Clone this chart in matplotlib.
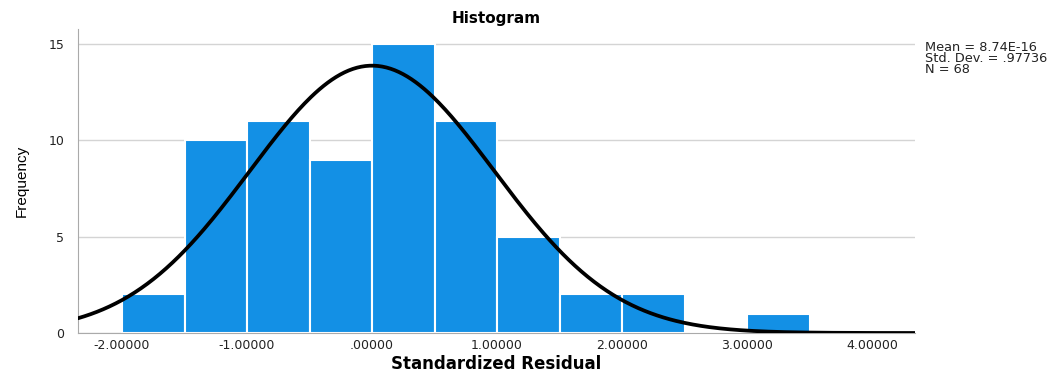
import numpy as np
import matplotlib
matplotlib.use("Agg")
import matplotlib.pyplot as plt

plt.rcParams['font.family'] = ['DejaVu Sans']

# histogram bins (edges) and counts
bin_edges = [-2.0, -1.5, -1.0, -0.5, 0.0, 0.5, 1.0, 1.5, 2.0, 2.5, 3.0, 3.5]
counts = [2, 10, 11, 9, 15, 11, 5, 2, 2, 0, 1]

mean = 8.74e-16
std = 0.97736
n = 68

xticks = [-2, -1, 0, 1, 2, 3, 4]
xticklabels = ["-2.00000", "-1.00000", ".00000", "1.00000", "2.00000", "3.00000", "4.00000"]
yticks = [0, 5, 10, 15]

fig = plt.figure(figsize=(10.56, 3.71), dpi=100)
ax = fig.add_axes([0.0739, 0.1024, 0.7926, 0.8194])

lefts = np.array(bin_edges[:-1])
widths = np.diff(bin_edges)
ax.bar(lefts, counts, width=widths, align="edge", color="#1390E5",
       edgecolor="white", linewidth=1.5, zorder=2)

# fitted normal curve, scaled to counts
xlim = (-2.352, 4.344)
xs = np.linspace(xlim[0], xlim[1], 400)
bw = widths[0]
ys = n * bw / (std * np.sqrt(2 * np.pi)) * np.exp(-0.5 * ((xs - mean) / std) ** 2)
ax.plot(xs, ys, color="black", lw=2.7, zorder=3, solid_capstyle="round")

ax.set_xlim(*xlim)
ax.set_ylim(0, 15.78)
ax.set_xticks(xticks)
ax.set_xticklabels(xticklabels)
ax.set_yticks(yticks)
ax.tick_params(length=0, labelsize=9, colors="#222222")
ax.tick_params(axis="y", pad=10)
ax.tick_params(axis="x", pad=4)
ax.yaxis.grid(True, color="#d4d4d4", lw=1, zorder=0)
ax.set_axisbelow(True)
for s in ["top", "right"]:
    ax.spines[s].set_visible(False)
for s in ["left", "bottom"]:
    ax.spines[s].set_color("#aaaaaa")

ax.set_title("Histogram", fontsize=11, fontweight="bold", pad=4)
ax.set_xlabel("Standardized Residual", fontsize=12, fontweight="bold")
ax.xaxis.set_label_coords(0.5, -0.072)
ax.set_ylabel("Frequency", fontsize=11, labelpad=14,
              family=['Liberation Sans Narrow', 'Liberation Sans'])

fig.text(0.876, 0.889, "Mean = 8.74E-16\nStd. Dev. = .97736\nN = 68",
         fontsize=9.3, va="top", ha="left", linespacing=0.8, color="#222222")

fig.savefig("out.png", dpi=100)
